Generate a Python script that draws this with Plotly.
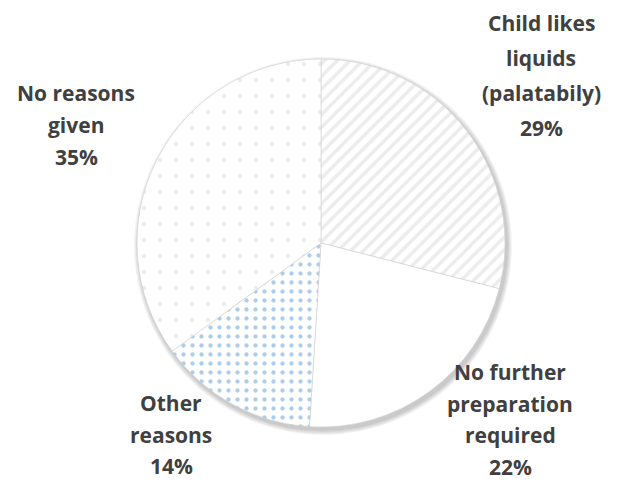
import plotly.graph_objects as go

categories = ["Child likes liquids (palatabily)", "No further preparation required", "Other reasons", "No reasons given"]
values = [29, 22, 14, 35]
label_lines = [
    ["Child likes", "liquids", "(palatabily)", "29%"],
    ["No further", "preparation", "required", "22%"],
    ["Other", "reasons", "14%"],
    ["No reasons", "given", "35%"],
]

# page has an 8px body margin; work in figure pixels = reference pixels - 8
OFF = 8
W, H = 619 - OFF, 481 - OFF
# label block layout (reference pixel centre x, first line y, line spacing)
label_pos = [(541, 23, 35), (510, 372, 31.5), (171, 403, 31.5), (76, 93, 32)]

# pie box in reference pixels
PX0, PX1, PY0, PY1 = 137, 505, 59, 427


def fx(px):
    return (px - OFF) / W


def fy(py):
    return 1 - (py - OFF) / H


fig = go.Figure()

# soft drop shadow built from stacked translucent circles
for k in range(5):
    g = 1 + k
    fig.add_shape(
        type="circle", xref="paper", yref="paper", layer="below",
        x0=fx(PX0 + 2 - g), x1=fx(PX1 + 2 + g),
        y0=fy(PY1 + 3 + g), y1=fy(PY0 + 3 - g),
        fillcolor="rgba(0,0,0,0.045)", line=dict(width=0),
    )

fig.add_trace(go.Pie(
    labels=categories,
    values=values,
    sort=False,
    direction="clockwise",
    rotation=0,
    textinfo="none",
    hoverinfo="label+percent",
    showlegend=False,
    domain=dict(x=[fx(PX0), fx(PX1)], y=[fy(PY1), fy(PY0)]),
    marker=dict(
        colors=["#ffffff", "#ffffff", "#ffffff", "#ffffff"],
        line=dict(color="#d0d0d0", width=0.6),
        pattern=dict(
            shape=["/", "", ".", "."],
            fgcolor=["#d9d9d9", "#ffffff", "#5b9bd5", "#d9d9d9"],
            bgcolor=["#ffffff", "#ffffff", "#ffffff", "#ffffff"],
            size=[9, 8, 9, 16],
            solidity=[0.4, 0.1, 0.18, 0.06],
            fillmode="overlay",
        ),
    ),
))

annotations = []
for lines, (cx, y0, lh) in zip(label_lines, label_pos):
    for i, line in enumerate(lines):
        annotations.append(dict(
            text="<b>" + line + "</b>",
            x=fx(cx), y=fy(y0 + i * lh),
            xref="paper", yref="paper",
            xanchor="center", yanchor="middle",
            showarrow=False, borderpad=0,
            font=dict(family="Open Sans, sans-serif", size=21, color="#404040"),
        ))

fig.update_layout(
    width=W, height=H,
    margin=dict(l=0, r=0, t=0, b=0),
    paper_bgcolor="#ffffff",
    plot_bgcolor="#ffffff",
    annotations=annotations,
)

fig.write_html("out.html")
